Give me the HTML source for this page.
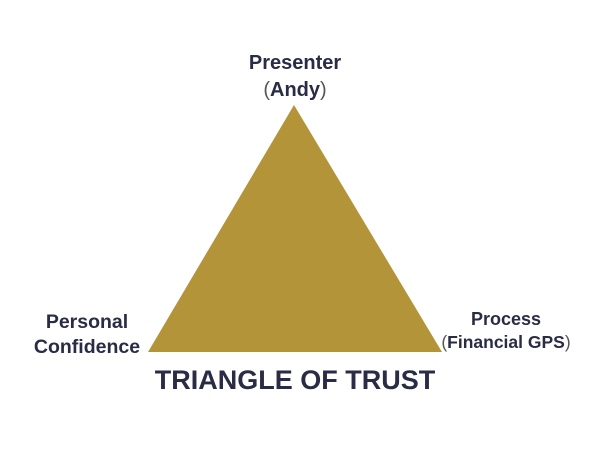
<!DOCTYPE html>
<html><head><style>
body{margin:0;width:600px;height:451px;background:#fff;position:relative;overflow:hidden;font-family:"Liberation Sans",sans-serif;color:#2a2b45;font-weight:bold}
.t{position:absolute;text-align:center;white-space:nowrap;transform:translateX(-50%)}
.p{font-weight:normal;color:#555}
</style></head><body>
<svg width="600" height="451" style="position:absolute;left:0;top:0">
<polygon points="294,105 148,352 442,352" fill="#b39438"/>
</svg>
<div class="t" style="left:295px;top:52px;font-size:20px">Presenter</div>
<div class="t" style="left:295px;top:79px;font-size:20px"><span class="p">(</span>Andy<span class="p">)</span></div>
<div class="t" style="left:87px;top:311px;font-size:19.5px">Personal</div>
<div class="t" style="left:87px;top:336px;font-size:19.5px">Confidence</div>
<div class="t" style="left:506px;top:309px;font-size:18px">Process</div>
<div class="t" style="left:506px;top:332px;font-size:17.5px"><span class="p">(</span>Financial GPS<span class="p">)</span></div>
<div class="t" style="left:295px;top:365px;font-size:27px">TRIANGLE OF TRUST</div>
</body></html>
